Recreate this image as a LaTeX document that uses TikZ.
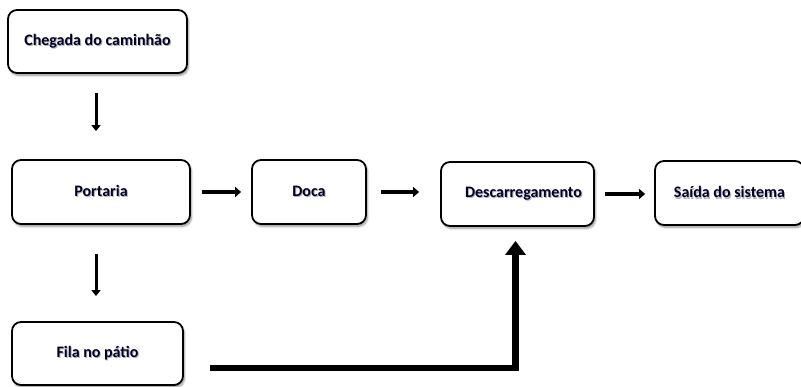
\documentclass[tikz,border=0pt]{standalone}
\usepackage{fontspec}
\setmainfont{Carlito}
\usetikzlibrary{arrows.meta,shadows.blur,calc}

% text with a soft offset shadow behind it
\newcommand{\softshadow}[1]{%
  \rlap{\hspace{1pt}\raisebox{-1.4pt}{\textcolor{black!30}{#1}}}#1}

\tikzset{
  x=1pt, y=-1pt,
  stepbox/.style={draw=black, line width=1.8pt, rounded corners=9pt, fill=white,
    inner sep=0pt, text=black!85!blue,
    font=\bfseries\fontsize{16}{19}\selectfont,
    blur shadow={shadow xshift=1.5pt, shadow yshift=-2.5pt, shadow opacity=40, shadow blur steps=6}},
  thinflow/.style={line width=3pt, -{Triangle[width=9pt,length=6pt]}},
  flow/.style={line width=4pt, -{Triangle[width=10pt,length=6pt]}},
  bigflow/.style={line width=6.5pt, -{Triangle[width=20pt,length=14pt]}},
}

\begin{document}
\begin{tikzpicture}
  \useasboundingbox (0,0) rectangle (801,387);

  % process steps
  \node[stepbox, minimum width=179pt, minimum height=63pt] (chegada) at (97.5,41.5)
    {\softshadow{Chegada do caminhão}};
  \node[stepbox, minimum width=178pt, minimum height=64pt] (portaria) at (101,192)
    {\raisebox{3pt}{\softshadow{Portaria}}};
  \node[stepbox, minimum width=114pt, minimum height=64pt] (doca) at (309,192)
    {\softshadow{Doca}};
  \node[stepbox, minimum width=153pt, minimum height=64pt] (descarga) at (517.5,194)
    {\hspace{12pt}\softshadow{Descarregamento}};
  \node[stepbox, minimum width=149pt, minimum height=64pt] (saida) at (729.5,193)
    {\raisebox{1pt}{\softshadow{Saída do sistema}}};
  \node[stepbox, minimum width=171pt, minimum height=63pt] (fila) at (97.5,353.5)
    {\softshadow{Fila no pátio}};

  % vertical arrows in the left column
  \draw[thinflow, shorten <=19pt, shorten >=28pt]
    ([xshift=-1.5pt]chegada.south) -- ([xshift=-1.5pt]chegada.south |- portaria.north);
  \draw[thinflow, shorten <=29pt, shorten >=25pt]
    ([xshift=-5pt]portaria.south) -- ([xshift=-5pt]portaria.south |- fila.north);

  % horizontal arrows along the main line
  \draw[flow, shorten <=11pt, shorten >=10pt] (portaria.east) -- (portaria.east -| doca.west);
  \draw[flow, shorten <=14pt, shorten >=21pt] (doca.east) -- (doca.east -| descarga.west);
  \draw[flow, shorten <=10pt, shorten >=9pt] (descarga.east) -- (descarga.east -| saida.west);

  % queue back to unloading
  \coordinate (filaout) at ([yshift=-14.5pt]fila.east);
  \coordinate (corner) at (filaout -| descarga.south);
  \draw[bigflow, shorten >=14pt, line join=miter]
    ([xshift=26pt]filaout) -- ([xshift=-2pt]corner) -- ([xshift=-2pt]descarga.south);
\end{tikzpicture}
\end{document}
